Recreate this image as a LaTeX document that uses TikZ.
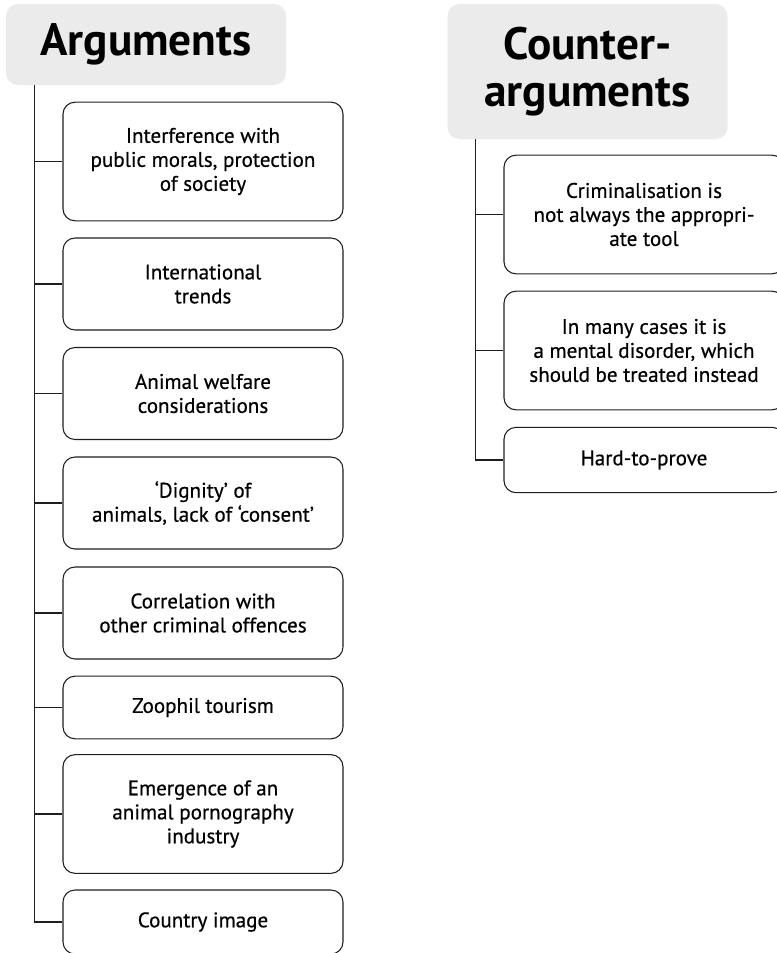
\documentclass[tikz,border=0pt]{standalone}
\usepackage{fontspec}
\setmainfont{PT Sans}
\newfontfamily\itemfont{PT Sans}[FakeBold=0.5, Ligatures=TeX]
\usetikzlibrary{positioning}
\definecolor{hdrfill}{RGB}{235,235,235}
\definecolor{lineC}{RGB}{30,30,30}
\newcommand{\hdr}{\fontsize{34}{35}\selectfont\bfseries}
\newcommand{\txt}{\itemfont\fontsize{15.8}{18}\selectfont}

\begin{document}
\begin{tikzpicture}[
  x=0.75pt, y=-0.75pt,
  hdrbox/.style={
    fill=hdrfill, rounded corners=9pt, minimum width=210pt,
    align=center, font=\hdr, inner sep=0pt
  },
  itembox/.style={
    draw=lineC, fill=white, rounded corners=9pt, line width=0.8pt,
    minimum width=210pt, align=center, font=\txt, inner sep=0pt
  },
  branch/.style={draw=lineC, line width=0.9pt},
]
\useasboundingbox (0,0) rectangle (777,953);

% --- Headers ---
\node[hdrbox, minimum height=60.75pt]  (hdrArg) at (146,44.5) {Arguments};
\node[hdrbox, minimum height=101.25pt] (hdrCtr) at (587.5,71.5) {Counter-\\arguments};

% --- Arguments ---
\node[itembox, minimum height=89pt] (arg1) at (203,161.5) {Interference with\\public morals, protection\\of society};
\node[itembox, minimum height=69pt] (arg2) at (203,284) {International\\trends};
\node[itembox, minimum height=69pt] (arg3) at (203,393.5) {Animal welfare\\considerations};
\node[itembox, minimum height=69pt] (arg4) at (203,503) {‘Dignity’ of\\animals, lack of ‘consent’};
\node[itembox, minimum height=69pt] (arg5) at (203,613) {Correlation with\\other criminal offences};
\node[itembox, minimum height=47pt] (arg6) at (203,707.5) {Zoophil tourism};
\node[itembox, minimum height=89pt] (arg7) at (203,814) {Emergence of an\\animal pornography\\industry};
\node[itembox, minimum height=48pt] (arg8) at (203,922) {Country image};

% --- Counter-arguments ---
\node[itembox, minimum height=89pt] (ctr1) at (644,214.5) {Criminalisation is\\not always the appropri-\\ate tool};
\node[itembox, minimum height=89pt] (ctr2) at (644,350.5) {In many cases it is\\a mental disorder, which\\should be treated instead};
\node[itembox, minimum height=49pt] (ctr3) at (644,460) {Hard-to-prove};

% --- Trunks and branches ---
\coordinate (trunkArg) at ([xshift=21.75pt]hdrArg.south west);
\coordinate (trunkCtr) at ([xshift=21pt]hdrCtr.south west);
\foreach \i in {1,...,8}
  \draw[branch] (trunkArg) |- (arg\i.west);
\foreach \i in {1,...,3}
  \draw[branch] (trunkCtr) |- (ctr\i.west);

\end{tikzpicture}
\end{document}
